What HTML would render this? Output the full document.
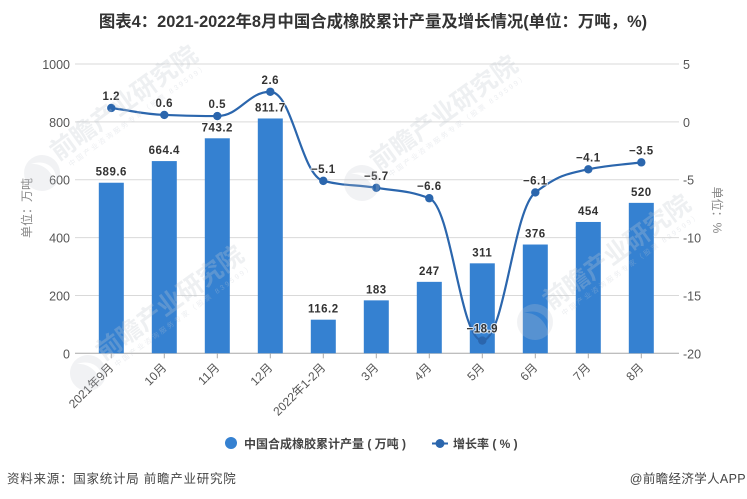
<!DOCTYPE html>
<html lang="zh">
<head>
<meta charset="utf-8">
<title>图表4</title>
<style>
html,body{margin:0;padding:0;background:#fff;}
#stage{position:relative;width:747px;height:499px;overflow:hidden;background:#fff;}
svg{position:absolute;left:0;top:0;}
text{font-family:"Liberation Sans","Noto Sans CJK SC",sans-serif;}
</style>
</head>
<body>
<div id="stage">
<svg id="chart" width="747" height="499" viewBox="0 0 747 499" xmlns="http://www.w3.org/2000/svg">
  <text x="373" y="27" text-anchor="middle" font-size="16.4" font-weight="700" fill="#333">图表4：2021-2022年8月中国合成橡胶累计产量及增长情况(单位：万吨，%)</text>
  <g id="grid"></g>
  <g id="bars"></g>
  <g id="xaxis"></g>
  <g id="yleft"></g>
  <g id="yright"></g>
  <text transform="translate(31,208) rotate(-90)" text-anchor="middle" font-size="12" fill="#888">单位：万吨</text>
  <text transform="translate(713,210) rotate(90)" text-anchor="middle" font-size="12" fill="#888">单位：%</text>
  <path id="growth-line" fill="none" stroke="#2b66ad" stroke-width="2.2"></path>
  <g id="points"></g>
  <g id="labels"></g>
  <g id="watermarks"></g>
  <g>
    <g>
      <circle cx="231" cy="443" r="6" fill="#3581d1"></circle>
      <text x="244" y="448" font-size="12" font-weight="700" fill="#444">中国合成橡胶累计产量 ( 万吨 )</text>
    </g>
    <g>
      <line x1="432" y1="443.5" x2="448" y2="443.5" stroke="#2b66ad" stroke-width="2"></line>
      <circle cx="440" cy="443.5" r="4.5" fill="#2b66ad"></circle>
      <text x="453" y="448" font-size="12" font-weight="700" fill="#444">增长率 ( % )</text>
    </g>
  </g>
  <text x="7" y="483" font-size="12.5" fill="#444" letter-spacing=".75">资料来源：国家统计局 前瞻产业研究院</text>
  <text x="746" y="483" text-anchor="end" font-size="12.5" fill="#444" letter-spacing=".35">@前瞻经济学人APP</text>
</svg>
</div>
<script>
const categories = ['2021年9月','10月','11月','12月','2022年1-2月','3月','4月','5月','6月','7月','8月'];
const production = [589.6,664.4,743.2,811.7,116.2,183,247,311,376,454,520];
const growth = [1.2,0.6,0.5,2.6,-5.1,-5.7,-6.6,-18.9,-6.1,-4.1,-3.5];
const leftTicks = [0,200,400,600,800,1000];
const rightTicks = [-20,-15,-10,-5,0,5];
const watermarkAnchors = [[42,173],[362,183],[88,373],[535,322]];

const NS = 'http://www.w3.org/2000/svg';
const plotTop = 64, plotBottom = 353.3, plotLeft = 84.8, plotRight = 667.8;
const xBand = (plotRight - plotLeft) / categories.length;
const xScale = i => plotLeft + xBand * (i + 0.5);
const yLeft = v => plotBottom - (v / 1000) * (plotBottom - plotTop);
const yRight = v => plotBottom - ((v + 20) / 25) * (plotBottom - plotTop);

function el(tag, attrs, parent, txt) {
  const n = document.createElementNS(NS, tag);
  for (const k in attrs) n.setAttribute(k, attrs[k]);
  if (txt !== undefined) n.textContent = txt;
  parent.appendChild(n);
  return n;
}

const grid = document.getElementById('grid');
const yl = document.getElementById('yleft');
const yr = document.getElementById('yright');
leftTicks.forEach((t, i) => {
  const y = yLeft(t);
  const line = el('line', {x1: 75, x2: 679, y1: y, y2: y, stroke: t === 0 ? '#a8a8a8' : '#d9d9d9', 'stroke-width': 1}, grid);
  
  
  const lbl = el('text', {x: 70, y: y + 5, 'text-anchor': 'end', 'font-size': 12.5, fill: '#555'}, yl, String(t));
  
  
});
rightTicks.forEach(t => {
  const y = yRight(t);
  const lbl = el('text', {x: 683, y: y + 5, 'font-size': 12.5, fill: '#555'}, yr, String(t));
  
  
});

const bars = document.getElementById('bars');
const xaxis = document.getElementById('xaxis');
const labels = document.getElementById('labels');
const barWidth = 25;
const labelHalo = {'paint-order': 'stroke', stroke: 'rgba(255,255,255,.8)', 'stroke-width': 2, 'stroke-linejoin': 'round'};
categories.forEach((c, i) => {
  const x = xScale(i);
  const bar = el('rect', {x: x - barWidth / 2, y: yLeft(production[i]), width: barWidth, height: plotBottom - yLeft(production[i]), fill: '#3581d1'}, bars);
  
  
  const tick = el('line', {x1: x, x2: x, y1: plotBottom, y2: plotBottom + 5, stroke: '#a8a8a8', 'stroke-width': 1}, xaxis);
  
  
  const lbl = el('text', {transform: 'translate(' + (x + 3) + ',' + (plotBottom + 15) + ') rotate(-45)', 'text-anchor': 'end', 'font-size': 12, fill: '#555'}, xaxis, c);
  
  
  const vl = el('text', Object.assign({x: x, y: yLeft(production[i]) - 7, 'text-anchor': 'middle', 'font-size': 11.5, 'font-weight': 700, fill: '#333', 'letter-spacing': '.5'}, labelHalo), labels, String(production[i]));
  
  
});

/* monotone cubic smoothing through the growth values */
const pts = growth.map((g, i) => [xScale(i), yRight(g)]);
const slopes = [];
for (let i = 0; i < pts.length - 1; i++) slopes.push((pts[i + 1][1] - pts[i][1]) / (pts[i + 1][0] - pts[i][0]));
const tang = pts.map((p, i) => {
  if (i === 0) return slopes[0];
  if (i === pts.length - 1) return slopes[i - 1];
  if (slopes[i - 1] * slopes[i] <= 0) return 0;
  return 2 * slopes[i - 1] * slopes[i] / (slopes[i - 1] + slopes[i]);
});
let d = 'M' + pts[0][0] + ' ' + pts[0][1];
for (let i = 0; i < pts.length - 1; i++) {
  const h = (pts[i + 1][0] - pts[i][0]) * 0.42;
  d += ' C' + (pts[i][0] + h) + ' ' + (pts[i][1] + tang[i] * h) + ' ' + (pts[i + 1][0] - h) + ' ' + (pts[i + 1][1] - tang[i + 1] * h) + ' ' + pts[i + 1][0] + ' ' + pts[i + 1][1];
}
document.getElementById('growth-line').setAttribute('d', d);

const points = document.getElementById('points');
growth.forEach((g, i) => {
  const c = el('circle', {cx: pts[i][0], cy: pts[i][1], r: 4.2, fill: '#2b66ad'}, points);
  
  
  const t = el('text', Object.assign({x: pts[i][0], y: pts[i][1] - 8, 'text-anchor': 'middle', 'font-size': 11.5, 'font-weight': 700, fill: '#333', 'letter-spacing': '.5'}, labelHalo), labels, g < 0 ? '\u2212' + Math.abs(g) : String(g));
  
  
});

const wm = document.getElementById('watermarks');
watermarkAnchors.forEach(a => {
  const g = el('g', {transform: 'translate(' + a[0] + ',' + a[1] + ') rotate(-36)'}, wm);
  
  
  const logo = el('path', {d: 'M-18 0A18 18 0 1 1 18 0A18 18 0 1 1 -18 0ZM-4 -14C6 -8 9 4 5 15C14 10 15 -8 -4 -14Z', 'fill-rule': 'evenodd', fill: 'rgba(195,202,210,.24)'}, g);
  
  
  const t1 = el('text', {x: 20, y: 0, 'font-size': 25, 'font-weight': 700, fill: 'rgba(195,202,210,.28)'}, g, '前瞻产业研究院');
  
  
  const t2 = el('text', {x: 27, y: 12, 'font-size': 7, fill: 'rgba(195,202,210,.32)', 'letter-spacing': 2.2}, g, '中国产业咨询服务专家（股票 839599）');
  
  
});
</script>
</body>
</html>
